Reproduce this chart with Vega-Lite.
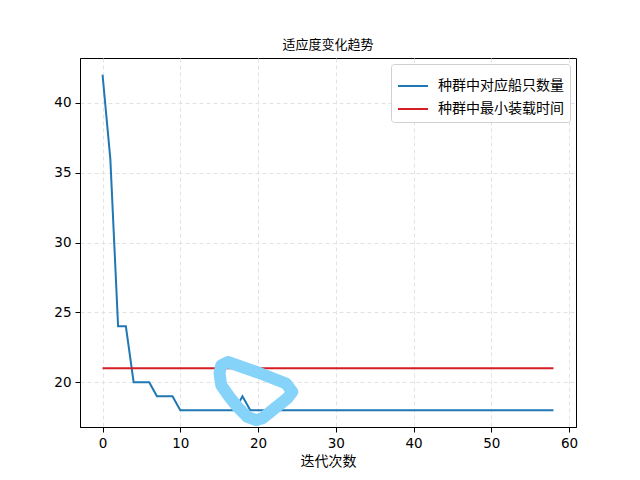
{
  "$schema": "https://vega.github.io/schema/vega-lite/v6.json",
  "autosize": {"type": "none"},
  "padding": {"left": 80, "top": 58, "right": 64, "bottom": 53},
  "width": 496,
  "height": 369,
  "background": "white",
  "title": {
    "text": "适应度变化趋势",
    "font": "Noto Sans CJK SC",
    "fontSize": 13,
    "fontWeight": "normal",
    "color": "black",
    "anchor": "middle",
    "offset": 6
  },
  "config": {
    "view": {"stroke": "black", "strokeWidth": 1},
    "axis": {
      "domainColor": "black",
      "tickColor": "black",
      "tickSize": 5,
      "labelFont": "DejaVu Sans",
      "labelFontSize": 13.5,
      "labelColor": "black",
      "labelPadding": 4,
      "grid": true,
      "gridColor": "#e2e2e2",
      "gridDash": [4, 3],
      "titleFont": "Noto Sans CJK SC",
      "titleFontSize": 14,
      "titleFontWeight": "normal",
      "titleColor": "black"
    }
  },
  "datasets": {
    "fitness": [
      {"iter": 0, "ships": 42, "time": 21},
      {"iter": 1, "ships": 36, "time": 21},
      {"iter": 2, "ships": 24, "time": 21},
      {"iter": 3, "ships": 24, "time": 21},
      {"iter": 4, "ships": 20, "time": 21},
      {"iter": 5, "ships": 20, "time": 21},
      {"iter": 6, "ships": 20, "time": 21},
      {"iter": 7, "ships": 19, "time": 21},
      {"iter": 8, "ships": 19, "time": 21},
      {"iter": 9, "ships": 19, "time": 21},
      {"iter": 10, "ships": 18, "time": 21},
      {"iter": 11, "ships": 18, "time": 21},
      {"iter": 12, "ships": 18, "time": 21},
      {"iter": 13, "ships": 18, "time": 21},
      {"iter": 14, "ships": 18, "time": 21},
      {"iter": 15, "ships": 18, "time": 21},
      {"iter": 16, "ships": 18, "time": 21},
      {"iter": 17, "ships": 18, "time": 21},
      {"iter": 18, "ships": 19, "time": 21},
      {"iter": 19, "ships": 18, "time": 21},
      {"iter": 20, "ships": 18, "time": 21},
      {"iter": 21, "ships": 18, "time": 21},
      {"iter": 22, "ships": 18, "time": 21},
      {"iter": 23, "ships": 18, "time": 21},
      {"iter": 24, "ships": 18, "time": 21},
      {"iter": 25, "ships": 18, "time": 21},
      {"iter": 26, "ships": 18, "time": 21},
      {"iter": 27, "ships": 18, "time": 21},
      {"iter": 28, "ships": 18, "time": 21},
      {"iter": 29, "ships": 18, "time": 21},
      {"iter": 30, "ships": 18, "time": 21},
      {"iter": 31, "ships": 18, "time": 21},
      {"iter": 32, "ships": 18, "time": 21},
      {"iter": 33, "ships": 18, "time": 21},
      {"iter": 34, "ships": 18, "time": 21},
      {"iter": 35, "ships": 18, "time": 21},
      {"iter": 36, "ships": 18, "time": 21},
      {"iter": 37, "ships": 18, "time": 21},
      {"iter": 38, "ships": 18, "time": 21},
      {"iter": 39, "ships": 18, "time": 21},
      {"iter": 40, "ships": 18, "time": 21},
      {"iter": 41, "ships": 18, "time": 21},
      {"iter": 42, "ships": 18, "time": 21},
      {"iter": 43, "ships": 18, "time": 21},
      {"iter": 44, "ships": 18, "time": 21},
      {"iter": 45, "ships": 18, "time": 21},
      {"iter": 46, "ships": 18, "time": 21},
      {"iter": 47, "ships": 18, "time": 21},
      {"iter": 48, "ships": 18, "time": 21},
      {"iter": 49, "ships": 18, "time": 21},
      {"iter": 50, "ships": 18, "time": 21},
      {"iter": 51, "ships": 18, "time": 21},
      {"iter": 52, "ships": 18, "time": 21},
      {"iter": 53, "ships": 18, "time": 21},
      {"iter": 54, "ships": 18, "time": 21},
      {"iter": 55, "ships": 18, "time": 21},
      {"iter": 56, "ships": 18, "time": 21},
      {"iter": 57, "ships": 18, "time": 21},
      {"iter": 58, "ships": 18, "time": 21}
    ],
    "blob": [
      {"order": 0, "x": 15.27, "y": 21.21},
      {"order": 1, "x": 16.12, "y": 21.45},
      {"order": 2, "x": 20.0, "y": 20.7},
      {"order": 3, "x": 23.6, "y": 19.91},
      {"order": 4, "x": 24.4, "y": 19.31},
      {"order": 5, "x": 23.77, "y": 18.86},
      {"order": 6, "x": 20.56, "y": 17.43},
      {"order": 7, "x": 19.76, "y": 17.29},
      {"order": 8, "x": 18.64, "y": 17.52},
      {"order": 9, "x": 17.36, "y": 18.24},
      {"order": 10, "x": 16.33, "y": 18.95},
      {"order": 11, "x": 15.27, "y": 19.79},
      {"order": 12, "x": 15.05, "y": 20.64}
    ]
  },
  "layer": [
    {
      "data": {"name": "fitness"},
      "transform": [{"fold": ["ships", "time"], "as": ["series", "value"]}],
      "mark": {"type": "line", "strokeWidth": 2},
      "encoding": {
        "x": {
          "field": "iter",
          "type": "quantitative",
          "scale": {"domain": [-2.9, 60.9], "nice": false, "zero": false},
          "axis": {"values": [0, 10, 20, 30, 40, 50, 60], "title": "迭代次数", "titlePadding": 5}
        },
        "y": {
          "field": "value",
          "type": "quantitative",
          "scale": {"domain": [16.8, 43.2], "nice": false, "zero": false},
          "axis": {"values": [20, 25, 30, 35, 40], "title": null}
        },
        "color": {
          "field": "series",
          "type": "nominal",
          "scale": {"domain": ["ships", "time"], "range": ["#1f77b4", "#d41e24"]},
          "legend": {
            "title": null,
            "orient": "top-right",
            "offset": 6,
            "labelExpr": "datum.value == 'ships' ? '种群中对应船只数量' : '种群中最小装载时间'",
            "labelFont": "Noto Sans CJK SC",
            "labelFontSize": 14,
            "labelColor": "black",
            "labelOffset": 9,
            "symbolType": "stroke",
            "symbolSize": 900,
            "symbolStrokeWidth": 2,
            "rowPadding": -6,
            "padding": 6,
            "strokeColor": "#d0d0d0",
            "fillColor": "white",
            "cornerRadius": 3
          }
        }
      }
    },
    {
      "data": {"name": "blob"},
      "mark": {"type": "line", "interpolate": "linear-closed", "color": "#86d3f9", "strokeWidth": 12, "strokeCap": "round", "strokeJoin": "round"},
      "encoding": {
        "x": {"field": "x", "type": "quantitative"},
        "y": {"field": "y", "type": "quantitative"},
        "order": {"field": "order", "type": "quantitative"}
      }
    }
  ]
}
